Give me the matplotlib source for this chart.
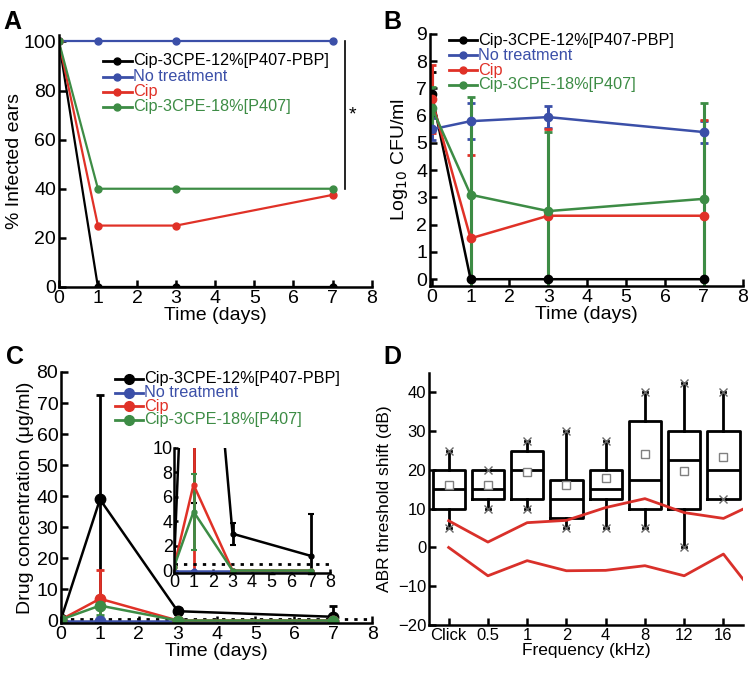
import numpy as np
import matplotlib.pyplot as plt
from matplotlib.lines import Line2D

plt.rcParams['font.family'] = ['Liberation Sans', 'DejaVu Sans']

# ---- data ----
days = [0, 1, 3, 7]
series_names = ["Cip-3CPE-12%[P407-PBP]", "No treatment", "Cip", "Cip-3CPE-18%[P407]"]
colors = ["#000000", "#3b4fa8", "#e03127", "#3d8c45"]

# A: % infected ears
infected = [
    [100, 0, 0, 0],
    [100, 100, 100, 100],
    [100, 25, 25, 37.5],
    [100, 40, 40, 40],
]

# B: log10 CFU/ml (mean, error)
cfu_mean = [
    [6.8, 0, 0, 0],
    [5.5, 5.8, 5.95, 5.4],
    [6.6, 1.5, 2.33, 2.33],
    [6.3, 3.1, 2.5, 2.95],
]
cfu_err = [
    [0.8, 0, 0, 0],
    [0.4, 0.65, 0.4, 0.4],
    [1.25, 3.05, 3.2, 3.5],
    [0.75, 3.6, 2.9, 3.5],
]

# C: drug concentration (ug/ml)
conc_mean = [
    [0.5, 39, 3, 1.2],
    [0, 0, 0, 0],
    [0.3, 7, 0, 0],
    [0.3, 4.8, 0, 0],
]
conc_err = [
    [0.3, 33.5, 0.9, 3.4],
    [0, 0, 0, 0],
    [0.2, 9.3, 0, 0],
    [0.2, 3.1, 0, 0],
]
detection_limit = 0.5

# D: ABR threshold shift box stats
freq_labels = ["Click", "0.5", "1", "2", "4", "8", "12", "16"]
q1 = [10, 12.5, 12.5, 7.5, 12.5, 10, 10, 12.5]
med = [15, 15, 20, 12.5, 15, 17.5, 22.5, 20]
q3 = [20, 20, 25, 17.5, 20, 32.5, 30, 30]
whislo = [5, 10, 10, 5, 5, 5, 0, 12.5]
whishi = [25, 20, 27.5, 30, 27.5, 40, 42.5, 40]
means = [16.2, 16.0, 19.4, 16.2, 17.8, 24.0, 19.7, 23.4]
# reference band lines (last point at right edge)
band_x = [1, 2, 3, 4, 5, 6, 7, 8, 8.5]
band_upper = [6.9, 1.4, 6.4, 7.0, 10.3, 12.6, 9.0, 7.5, 9.9]
band_lower = [0, -7.3, -3.4, -6.0, -5.9, -4.7, -7.3, -1.7, -8.2]

W, H = 754, 673
TICK_FS = 14
LAB_FS = 14
LEG_FS = 11.7


def style_axes(ax, fs=TICK_FS):
    for s in ["top", "right"]:
        ax.spines[s].set_visible(False)
    for s in ["left", "bottom"]:
        ax.spines[s].set_linewidth(1.8)
    ax.tick_params(direction="in", width=1.8, length=5, labelsize=fs, pad=2)


def add_legend(fig, x0, x1, ys, ms):
    # hand-placed legend (pixel positions from top-left), rows packed tightly
    for name, c, y in zip(series_names, colors, ys):
        yf = 1 - y / H
        fig.add_artist(Line2D([x0 / W, x1 / W], [yf, yf], color=c, lw=2,
                              transform=fig.transFigure))
        fig.add_artist(Line2D([(x0 + x1) / 2 / W], [yf], color=c, marker="o", ms=ms,
                              transform=fig.transFigure))
        fig.text((x1 + 1) / W, yf, name, color=c, fontsize=LEG_FS, va="center", ha="left")


fig = plt.figure(figsize=(7.54, 6.73), dpi=100)

# ---- A ----
axA = fig.add_axes([0.078, 0.5736, 0.415, 0.374])
for vals, c in zip(infected, colors):
    axA.plot(days, vals, color=c, lw=1.6, marker="o", ms=5)
axA.set_xlim(0, 8)
axA.set_ylim(0, 102.5)
axA.set_xticks(range(0, 9))
axA.set_yticks(range(0, 101, 20))
style_axes(axA)
axA.set_xlabel("Time (days)", fontsize=LAB_FS, labelpad=0)
axA.set_ylabel("% Infected ears", fontsize=LAB_FS, labelpad=0)
axA.plot([7.32, 7.32], [40, 100], color="black", lw=1.2, clip_on=False)
axA.text(7.5, 70, "*", fontsize=14, ha="center", va="center")
add_legend(fig, 103, 132, [61, 76.5, 91.5, 106.5], 5)
fig.text(0.004, 0.985, "A", fontsize=18, fontweight="bold", va="top")

# ---- B ----
axB = fig.add_axes([0.570, 0.575, 0.415, 0.3745])
for m, e, c in zip(cfu_mean, cfu_err, colors):
    axB.errorbar(days, m, yerr=e, color=c, lw=1.8, elinewidth=2.2, capsize=3, capthick=2,
                 marker="o", ms=6)
axB.set_xlim(-0.05, 8)
axB.set_ylim(-0.25, 9)
axB.set_xticks(range(0, 9))
axB.set_yticks(range(0, 10))
style_axes(axB)
axB.set_xlabel("Time (days)", fontsize=LAB_FS, labelpad=0)
axB.set_ylabel("Log$_{10}$ CFU/ml", fontsize=LAB_FS, labelpad=4)
add_legend(fig, 449, 477, [40, 55, 70, 85], 5)
fig.text(0.508, 0.985, "B", fontsize=18, fontweight="bold", va="top")

# ---- C ----
axC = fig.add_axes([0.081, 0.0743, 0.4125, 0.373])
for m, e, c in zip(conc_mean, conc_err, colors):
    axC.errorbar(days, m, yerr=e, color=c, lw=1.8, elinewidth=2, capsize=3, capthick=2,
                 marker="o", ms=7.5)
axC.axhline(detection_limit, color="black", lw=2, ls=(0, (1.2, 2.2)))
axC.set_xlim(0, 8)
axC.set_ylim(-0.8, 80)
axC.set_xticks(range(0, 9))
axC.set_yticks(range(0, 81, 10))
style_axes(axC)
axC.set_xlabel("Time (days)", fontsize=LAB_FS, labelpad=0)
axC.set_ylabel("Drug concentration (\u03bcg/ml)", fontsize=LAB_FS, labelpad=2)
add_legend(fig, 115, 143, [379, 392.5, 406, 419.5], 7)
fig.text(0.008, 0.488, "C", fontsize=18, fontweight="bold", va="top")

# inset
axI = fig.add_axes([0.2308, 0.1486, 0.207, 0.186])
for m, e, c in zip(conc_mean, conc_err, colors):
    axI.errorbar(days, m, yerr=e, color=c, lw=1.8, elinewidth=2, capsize=2, capthick=1.5,
                 marker="o", ms=3.5)
axI.axhline(detection_limit, color="black", lw=2, ls=(0, (1.2, 2.2)))
axI.set_xlim(0, 8)
axI.set_ylim(-0.2, 10)
axI.set_xticks(range(0, 9))
axI.set_yticks(range(0, 11, 2))
style_axes(axI, fs=13)
axI.tick_params(length=3, pad=1)
axI.patch.set_alpha(0)

# ---- D ----
axD = fig.add_axes([0.569, 0.0713, 0.4165, 0.3744])
pos = np.arange(1, len(freq_labels) + 1)
stats = []
for i in range(len(freq_labels)):
    stats.append(dict(med=med[i], q1=q1[i], q3=q3[i], whislo=whislo[i], whishi=whishi[i],
                      mean=means[i], fliers=[]))
axD.bxp(stats, positions=pos, widths=0.82, showmeans=True, showfliers=False,
        boxprops=dict(color="black", lw=2),
        medianprops=dict(color="black", lw=2),
        whiskerprops=dict(color="black", lw=2),
        capprops=dict(color="black", lw=2), capwidths=0.1,
        meanprops=dict(marker="s", markerfacecolor="white", markeredgecolor="#808080",
                       markersize=6, markeredgewidth=1))
axD.plot(pos, whislo, ls="none", marker="x", color="#666666", ms=6, mew=1)
axD.plot(pos, whishi, ls="none", marker="x", color="#666666", ms=6, mew=1)
axD.plot(band_x, band_upper, color="#d9302a", lw=2)
axD.plot(band_x, band_lower, color="#d9302a", lw=2)
axD.set_xlim(0.5, 8.5)
axD.set_ylim(-20, 45)
axD.set_xticks(pos)
axD.set_xticklabels(freq_labels)
axD.set_yticks(range(-20, 41, 10))
style_axes(axD, fs=12)
axD.set_xlabel("Frequency (kHz)", fontsize=12.5, labelpad=0)
axD.set_ylabel("ABR threshold shift (dB)", fontsize=12.5, labelpad=4)
fig.text(0.508, 0.488, "D", fontsize=18, fontweight="bold", va="top")

fig.savefig("out.png", dpi=100)
